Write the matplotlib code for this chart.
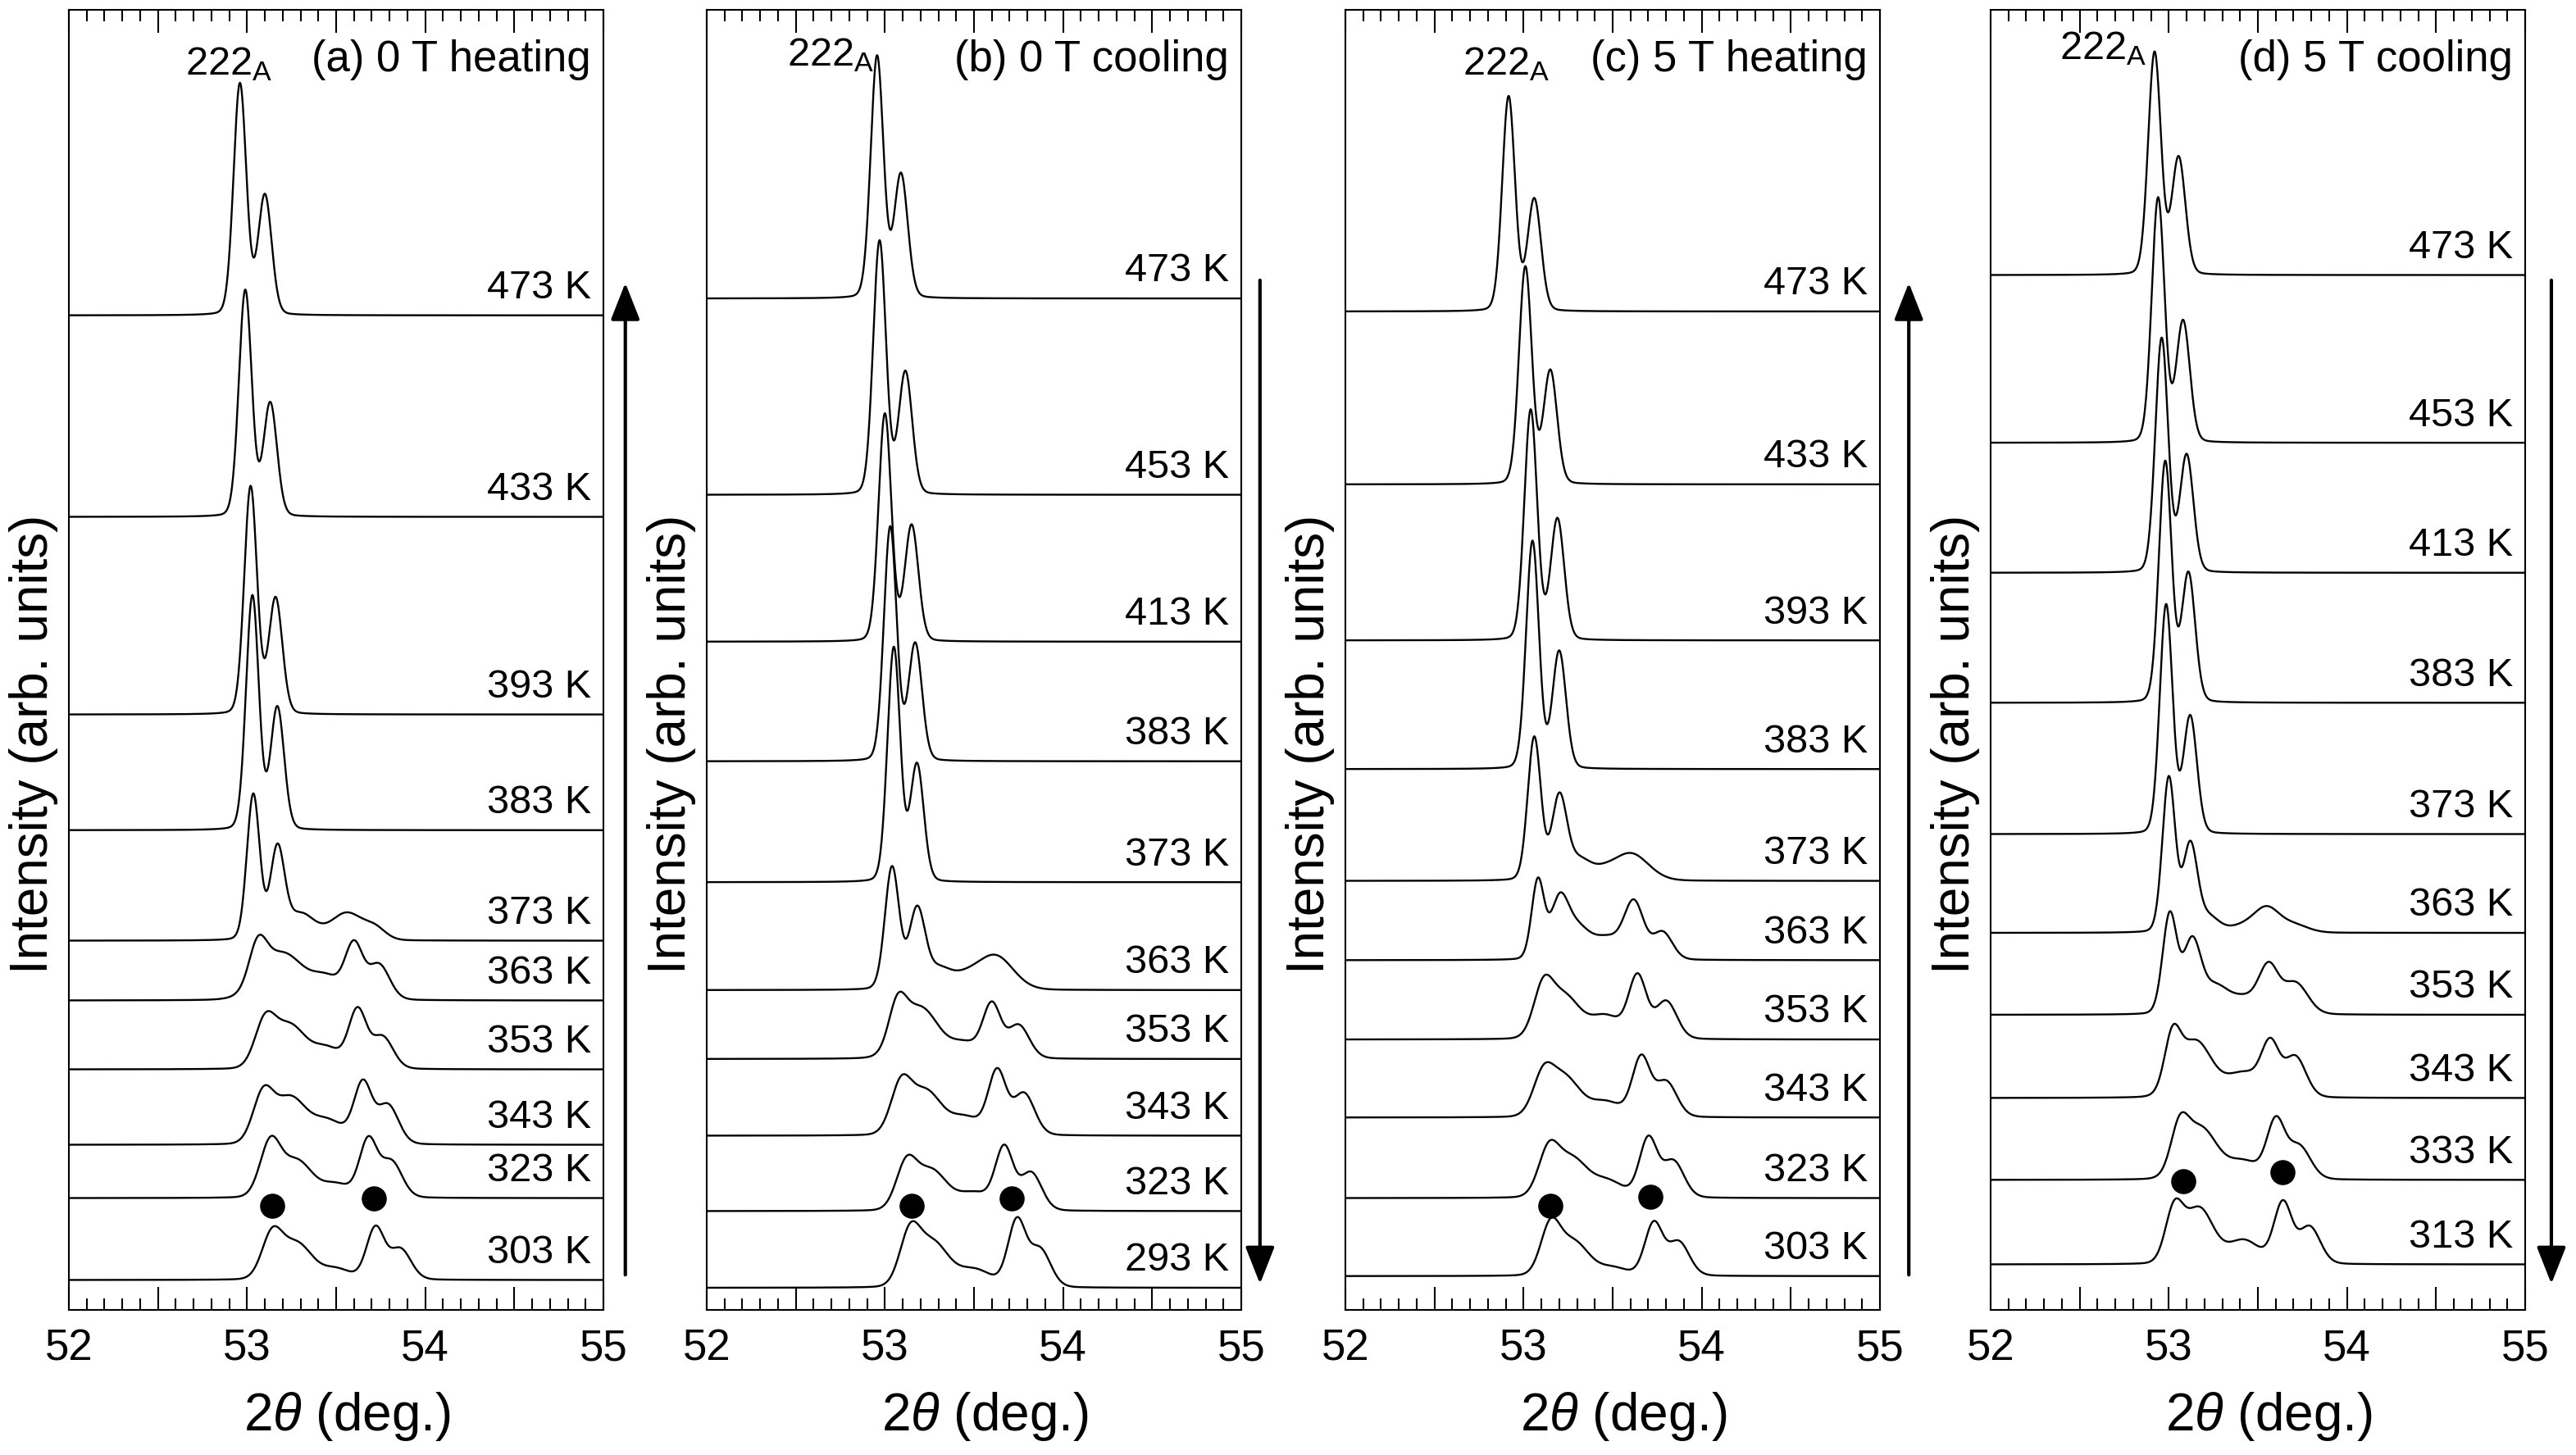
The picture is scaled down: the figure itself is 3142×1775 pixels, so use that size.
import numpy as np
import matplotlib
matplotlib.use('Agg')
from matplotlib import pyplot as plt
from matplotlib.ticker import MultipleLocator, FuncFormatter

plt.rcParams['font.family'] = ['Liberation Sans', 'DejaVu Sans']
plt.rcParams['mathtext.fontset'] = 'custom'
plt.rcParams['mathtext.rm'] = 'Liberation Sans'
plt.rcParams['mathtext.it'] = 'Liberation Sans:italic'

# each peak: (2theta centre, height in arb. units, width sigma in deg)
titles = ['(a) 0 T heating', '(b) 0 T cooling', '(c) 5 T heating', '(d) 5 T cooling']

temps_a = [473, 433, 393, 383, 373, 363, 353, 343, 323, 303]
offsets_a = [76.5, 61.0, 45.8, 36.9, 28.4, 23.8, 18.5, 12.7, 8.6, 2.3]
peaks_a = [
    [(52.96, 17.8, .036), (53.10, 9.2, .038)],
    [(52.99, 17.4, .036), (53.13, 8.7, .038)],
    [(53.02, 17.5, .036), (53.16, 8.9, .038)],
    [(53.03, 18.0, .036), (53.17, 9.4, .038)],
    [(53.035, 11.2, .036), (53.17, 6.8, .04), (53.30, 2.0, .08), (53.56, 2.1, .09), (53.72, 0.8, .06)],
    [(53.06, 3.1, .05), (53.20, 3.6, .12), (53.45, 1.5, .08), (53.60, 4.1, .05), (53.74, 2.7, .06)],
    [(53.10, 3.3, .058), (53.24, 3.3, .09), (53.45, 1.5, .08), (53.62, 4.4, .05), (53.76, 2.45, .06)],
    [(53.09, 3.7, .058), (53.24, 3.4, .085), (53.45, 1.8, .10), (53.65, 4.5, .05), (53.79, 3.0, .06)],
    [(53.13, 4.1, .058), (53.28, 2.8, .085), (53.50, 1.0, .08), (53.68, 4.35, .05), (53.81, 2.75, .06)],
    [(53.14, 3.3, .058), (53.28, 2.75, .085), (53.50, 0.8, .08), (53.72, 3.95, .05), (53.86, 2.35, .06)],
]
dots_a = [(53.14, 8.0), (53.71, 8.6)]

temps_b = [473, 453, 413, 383, 373, 363, 353, 343, 323, 293]
offsets_b = [77.8, 62.7, 51.4, 42.2, 32.9, 24.6, 19.3, 13.4, 7.6, 1.7]
peaks_b = [
    [(52.956, 18.6, .036), (53.09, 9.5, .038)],
    [(52.97, 19.5, .036), (53.115, 9.4, .038)],
    [(53.00, 17.5, .036), (53.15, 8.9, .038)],
    [(53.03, 18.0, .036), (53.17, 9.0, .038)],
    [(53.05, 18.0, .036), (53.18, 9.0, .038)],
    [(53.04, 9.4, .04), (53.18, 6.0, .045), (53.30, 1.5, .07), (53.45, 0.8, .08), (53.62, 2.6, .10)],
    [(53.07, 3.3, .05), (53.20, 3.9, .10), (53.45, 1.1, .08), (53.60, 4.05, .05), (53.75, 2.55, .06)],
    [(53.09, 3.7, .058), (53.23, 3.3, .085), (53.45, 1.35, .09), (53.63, 4.8, .05), (53.78, 3.2, .06)],
    [(53.12, 3.4, .058), (53.26, 3.0, .085), (53.50, 1.35, .10), (53.67, 4.6, .05), (53.82, 2.9, .06)],
    [(53.14, 3.9, .058), (53.27, 3.3, .085), (53.50, 1.35, .10), (53.74, 5.0, .05), (53.87, 2.9, .06)],
]
dots_b = [(53.15, 8.0), (53.71, 8.6)]

temps_c = [473, 433, 393, 383, 373, 363, 353, 343, 323, 303]
offsets_c = [76.8, 63.5, 51.5, 41.6, 33.0, 26.9, 20.8, 14.8, 8.6, 2.6]
peaks_c = [
    [(52.916, 16.5, .036), (53.06, 8.6, .038)],
    [(53.01, 16.7, .036), (53.15, 8.7, .038)],
    [(53.04, 17.7, .036), (53.19, 9.3, .038)],
    [(53.05, 17.5, .036), (53.20, 9.0, .038)],
    [(53.06, 11.0, .037), (53.20, 6.2, .042), (53.31, 1.6, .07), (53.45, 0.4, .06), (53.60, 2.1, .10)],
    [(53.08, 6.0, .035), (53.20, 4.2, .05), (53.30, 2.3, .07), (53.47, 1.6, .08), (53.62, 4.3, .055), (53.78, 2.1, .055)],
    [(53.11, 3.6, .055), (53.23, 3.2, .085), (53.46, 1.75, .09), (53.64, 4.7, .05), (53.80, 2.9, .06)],
    [(53.11, 2.9, .058), (53.23, 3.0, .085), (53.46, 1.15, .09), (53.66, 4.5, .05), (53.80, 2.7, .06)],
    [(53.14, 3.4, .058), (53.27, 2.9, .085), (53.47, 1.25, .09), (53.70, 4.5, .05), (53.84, 2.8, .06)],
    [(53.15, 3.6, .055), (53.28, 2.6, .085), (53.50, 0.6, .08), (53.73, 4.0, .05), (53.87, 2.6, .06)],
]
dots_c = [(53.15, 8.0), (53.71, 8.7)]

temps_d = [473, 453, 413, 383, 373, 363, 353, 343, 333, 313]
offsets_d = [79.6, 66.7, 56.7, 46.7, 36.6, 29.0, 22.7, 16.3, 10.0, 3.5]
peaks_d = [
    [(52.92, 17.1, .036), (53.055, 9.0, .038)],
    [(52.94, 18.8, .036), (53.08, 9.3, .038)],
    [(52.96, 18.0, .036), (53.10, 9.0, .038)],
    [(52.98, 18.5, .036), (53.11, 9.9, .038)],
    [(52.985, 17.6, .036), (53.12, 9.0, .038)],
    [(53.00, 11.9, .036), (53.12, 6.6, .04), (53.22, 1.2, .06), (53.42, 0.5, .08), (53.55, 1.8, .07), (53.70, 0.6, .08)],
    [(53.005, 7.6, .04), (53.13, 5.5, .05), (53.26, 2.0, .07), (53.42, 1.2, .08), (53.56, 3.5, .055), (53.71, 2.4, .07)],
    [(53.02, 4.0, .045), (53.15, 4.3, .09), (53.42, 1.85, .10), (53.57, 3.75, .05), (53.71, 3.1, .06)],
    [(53.06, 3.36, .05), (53.18, 3.9, .09), (53.42, 1.35, .09), (53.60, 4.3, .05), (53.73, 2.55, .065)],
    [(53.03, 3.96, .05), (53.17, 4.25, .08), (53.42, 1.8, .09), (53.64, 4.65, .05), (53.79, 2.85, .06)],
]
dots_d = [(53.08, 9.9), (53.64, 10.6)]

# where the 222_A marker starts (2theta, height)
peak_tags = [(52.655, 95.0), (52.45, 95.7), (52.66, 95.0), (52.385, 96.2)]
arrow_up = [True, False, True, False]
arrow_x = [1.041, 1.035, 1.054, 1.049]
ax_left = [84, 862, 1641, 2428]

two_theta = np.linspace(52, 55, 1501)


def profile(x, peaks, eta=0.1):
    y = np.zeros_like(x)
    for c, h, s in peaks:
        g = np.exp(-(x - c) ** 2 / (2 * s ** 2))
        gamma = 1.1774 * s
        l = 1 / (1 + ((x - c) / gamma) ** 2)
        y += h * ((1 - eta) * g + eta * l)
    return y


def int_label(v, pos):
    if abs(v - round(v)) < 1e-6:
        return f'{v:.0f}'
    return ''


panels = [
    (temps_a, offsets_a, peaks_a, dots_a),
    (temps_b, offsets_b, peaks_b, dots_b),
    (temps_c, offsets_c, peaks_c, dots_c),
    (temps_d, offsets_d, peaks_d, dots_d),
]

W, H = 3142, 1775
fig = plt.figure(figsize=(W / 100, H / 100), dpi=100)

for i, (temps, offsets, peaks, dots) in enumerate(panels):
    ax = fig.add_axes([ax_left[i] / W, (H - 1598) / H, 652 / W, 1586 / H])
    for t, off, pk in zip(temps, offsets, peaks):
        ax.plot(two_theta, off + profile(two_theta, pk), color='black', lw=1.7)
        ax.text(54.93, off + 1.3, f'{t} K', ha='right', va='baseline', fontsize=35)

    dx = [d[0] for d in dots]
    dy = [d[1] for d in dots]
    ax.plot(dx, dy, 'o', color='black', ms=21)

    ax.text(54.93, 95.3, titles[i], ha='right', va='baseline', fontsize=38)
    ax.text(peak_tags[i][0], peak_tags[i][1], r'222$_\mathregular{A}$',
            ha='left', va='baseline', fontsize=35)

    ax.set_xlim(52, 55)
    ax.set_ylim(0, 100)
    ax.set_yticks([])
    ax.xaxis.set_major_locator(MultipleLocator(0.5))
    ax.xaxis.set_minor_locator(MultipleLocator(0.1))
    ax.xaxis.set_major_formatter(FuncFormatter(int_label))
    ax.tick_params(axis='x', which='both', direction='in', top=True, bottom=True,
                   width=1.5, labelsize=38, pad=16)
    ax.tick_params(axis='x', which='major', length=20)
    ax.tick_params(axis='x', which='minor', length=10)
    for sp in ax.spines.values():
        sp.set_linewidth(1.5)

    ax.set_xlabel(r'2$\mathit{\theta}$ (deg.)', fontsize=46)
    ax.xaxis.set_label_coords(0.52, -0.062)
    ax.set_ylabel('Intensity (arb. units)', fontsize=46)
    ax.yaxis.set_label_coords(-0.02, 0.435)

    if arrow_up[i]:
        tail, head = 0.027, 0.790
    else:
        tail, head = 0.792, 0.020
    ax.annotate('', xy=(arrow_x[i], head), xytext=(arrow_x[i], tail),
                xycoords='axes fraction', textcoords='axes fraction',
                arrowprops=dict(arrowstyle='-|>,head_length=2.8,head_width=1.1',
                                lw=3, color='black', mutation_scale=10,
                                shrinkA=0, shrinkB=0))

fig.savefig('out.png', dpi=100)
